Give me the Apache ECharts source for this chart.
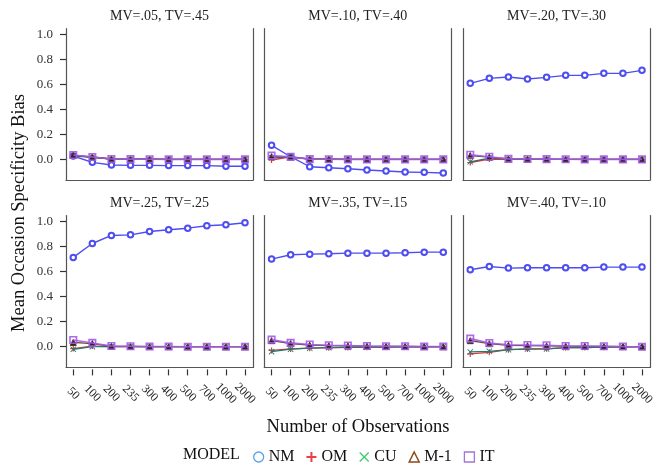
<!DOCTYPE html>
<html lang="en">
<head>
    <meta charset="UTF-8">
    <title>Mean Occasion Specificity Bias</title>
    <script src="https://cdn.jsdelivr.net/npm/echarts@6/dist/echarts.min.js"></script>
    <style>
        html, body { margin: 0; padding: 0; background: #fff; }
        #main { width: 660px; height: 468px; }
    </style>
</head>
<body>
<div id="main"></div>
<script>
    // x categories (number of observations)
    var obs = ['50', '100', '200', '235', '300', '400', '500', '700', '1000', '2000'];
    var panelTitles = ['MV=.05, TV=.45', 'MV=.10, TV=.40', 'MV=.20, TV=.30',
                       'MV=.25, TV=.25', 'MV=.35, TV=.15', 'MV=.40, TV=.10'];
    var yTicks = [0, 0.2, 0.4, 0.6, 0.8, 1.0];
    var models = ['NM', 'OM', 'CU', 'M-1', 'IT'];

    // one row per panel
    var nmBias = [
        [0.027, -0.024, -0.045, -0.048, -0.048, -0.050, -0.050, -0.050, -0.055, -0.055],
        [0.112, 0.021, -0.059, -0.067, -0.075, -0.085, -0.093, -0.101, -0.104, -0.109],
        [0.608, 0.648, 0.659, 0.643, 0.656, 0.672, 0.672, 0.688, 0.688, 0.712],
        [0.711, 0.822, 0.886, 0.891, 0.918, 0.931, 0.944, 0.963, 0.971, 0.987],
        [0.698, 0.732, 0.737, 0.740, 0.745, 0.745, 0.745, 0.748, 0.753, 0.753],
        [0.613, 0.639, 0.626, 0.629, 0.629, 0.629, 0.629, 0.634, 0.634, 0.634]
    ];
    var omBias = [
        [0.030, 0.018, 0.003, 0.002, 0.001, 0.000, 0.000, 0.000, 0.000, 0.000],
        [-0.005, 0.020, 0.002, 0.001, 0.000, 0.000, 0.000, 0.000, 0.000, 0.000],
        [-0.025, 0.003, 0.001, 0.000, 0.000, 0.000, 0.000, 0.000, 0.000, 0.000],
        [-0.015, 0.005, 0.000, 0.000, 0.000, 0.000, 0.000, 0.000, 0.000, 0.000],
        [-0.030, -0.018, -0.012, -0.008, -0.006, -0.004, -0.003, -0.002, -0.001, 0.000],
        [-0.058, -0.045, -0.024, -0.018, -0.017, -0.008, -0.007, -0.004, -0.002, 0.000]
    ];
    var cuBias = [
        [0.028, 0.017, 0.002, 0.001, 0.001, 0.000, 0.000, 0.000, 0.000, 0.000],
        [0.012, 0.018, 0.002, 0.001, 0.000, 0.000, 0.000, 0.000, 0.000, 0.000],
        [-0.020, 0.010, 0.002, 0.001, 0.000, 0.000, 0.000, 0.000, 0.000, 0.000],
        [-0.021, 0.000, 0.001, 0.000, 0.000, 0.000, 0.000, 0.000, 0.000, 0.000],
        [-0.040, -0.020, -0.012, -0.008, -0.006, -0.004, -0.003, -0.002, -0.001, 0.000],
        [-0.042, -0.037, -0.024, -0.019, -0.018, -0.008, -0.007, -0.004, -0.002, 0.000]
    ];
    var m1Bias = [
        [0.032, 0.019, 0.003, 0.002, 0.001, 0.000, 0.000, 0.000, 0.000, 0.000],
        [0.022, 0.020, 0.002, 0.001, 0.000, 0.000, 0.000, 0.000, 0.000, 0.000],
        [0.030, 0.018, 0.003, 0.002, 0.001, 0.000, 0.000, 0.000, 0.000, 0.000],
        [0.034, 0.025, 0.003, 0.002, 0.001, 0.000, 0.000, 0.000, 0.000, 0.000],
        [0.048, 0.025, 0.012, 0.008, 0.006, 0.004, 0.003, 0.002, 0.001, 0.000],
        [0.048, 0.024, 0.011, 0.008, 0.006, 0.004, 0.003, 0.002, 0.001, 0.000]
    ];
    var itBias = [
        [0.035, 0.019, 0.003, 0.002, 0.001, 0.000, 0.000, 0.000, 0.000, 0.000],
        [0.030, 0.020, 0.002, 0.001, 0.000, 0.000, 0.000, 0.000, 0.000, 0.000],
        [0.037, 0.021, 0.004, 0.003, 0.002, 0.001, 0.000, 0.000, 0.000, 0.000],
        [0.053, 0.030, 0.005, 0.004, 0.002, 0.001, 0.000, 0.000, 0.000, 0.000],
        [0.056, 0.030, 0.018, 0.012, 0.010, 0.005, 0.004, 0.003, 0.002, 0.001],
        [0.064, 0.029, 0.016, 0.013, 0.011, 0.005, 0.005, 0.003, 0.001, 0.000]
    ];

    var FONT = 'Liberation Serif';
    var plusPath = 'path://M4,0 L6,0 L6,4 L10,4 L10,6 L6,6 L6,10 L4,10 L4,6 L0,6 L0,4 L4,4 Z';
    var crossPath = 'path://M1,0 L5,4 L9,0 L10,1 L6,5 L10,9 L9,10 L5,6 L1,10 L0,9 L4,5 L0,1 Z';

    var colLeft = [66, 264.3, 463];
    var rowTop = [28.7, 215.5];
    var rowHeight = [151.3, 151.9];
    var panelW = 187;

    var grids = [], xAxes = [], yAxes = [], series = [], graphics = [];
    var axisGray = '#555';

    for (var p = 0; p < 6; p++) {
        var r = Math.floor(p / 3), c = p % 3;
        var bottomRow = r === 1;
        grids.push({ left: colLeft[c], top: rowTop[r], width: panelW, height: rowHeight[r], containLabel: false });
        // axis line (bottom of frame)
        xAxes.push({
            type: 'value', gridIndex: p, min: -0.38, max: 9.42, position: 'bottom',
            axisLine: { show: true, onZero: false, lineStyle: { color: axisGray, width: 1.2 } },
            axisTick: { show: false }, axisLabel: { show: false }, splitLine: { show: false }
        });
        // ticks and labels, set slightly off the frame
        xAxes.push({
            type: 'value', gridIndex: p, min: -0.38, max: 9.42, position: 'bottom', offset: 2,
            axisLine: { show: false, onZero: false },
            axisTick: { show: bottomRow, length: 6, customValues: [0, 1, 2, 3, 4, 5, 6, 7, 8, 9],
                lineStyle: { color: '#333', width: 1.2 } },
            axisLabel: { show: bottomRow, customValues: [0, 1, 2, 3, 4, 5, 6, 7, 8, 9], rotate: -45, margin: 24,
                align: 'center', verticalAlign: 'middle',
                fontFamily: FONT, fontSize: 12, color: '#222',
                formatter: function (v) { return obs[Math.round(v)]; } },
            splitLine: { show: false }
        });
        yAxes.push({
            type: 'value', gridIndex: p, min: -0.165, max: 1.045, position: 'left',
            axisLine: { show: true, onZero: false, lineStyle: { color: axisGray, width: 1.2 } },
            axisTick: { show: c === 0, length: 6, customValues: yTicks, lineStyle: { color: '#333', width: 1.2 } },
            axisLabel: { show: c === 0, customValues: yTicks, margin: 13, fontFamily: FONT, fontSize: 13, color: '#333',
                formatter: function (v) { return v.toFixed(1); } },
            splitLine: { show: false }
        });
        yAxes.push({
            type: 'value', gridIndex: p, min: -0.165, max: 1.045, position: 'right',
            axisLine: { show: true, onZero: false, lineStyle: { color: axisGray, width: 1.2 } },
            axisTick: { show: false }, axisLabel: { show: false }, splitLine: { show: false }
        });

        var toPts = function (arr) { return arr.map(function (v, i) { return [i, v]; }); };
        var base = { type: 'line', xAxisIndex: 2 * p, yAxisIndex: 2 * p, silent: true, animation: false };

        series.push(Object.assign({}, base, {
            name: 'NM', data: toPts(nmBias[p]), symbol: 'emptyCircle', symbolSize: 5.5, z: 2,
            lineStyle: { color: '#4d4df2', width: 1.4 },
            itemStyle: { color: '#4d4df2', borderColor: '#4d4df2', borderWidth: 1.4 }
        }));
        series.push(Object.assign({}, base, {
            name: 'OM', data: toPts(omBias[p]), symbol: plusPath, symbolSize: 6, z: 3,
            lineStyle: { color: '#e0343e', width: 1.3 },
            itemStyle: { color: '#e0343e', borderWidth: 0 }
        }));
        series.push(Object.assign({}, base, {
            name: 'CU', data: toPts(cuBias[p]), symbol: crossPath, symbolSize: 6, z: 4,
            lineStyle: { color: '#1f7a6a', width: 1.3 },
            itemStyle: { color: '#1f7a6a', borderWidth: 0 }
        }));
        series.push(Object.assign({}, base, {
            name: 'M-1', data: toPts(m1Bias[p]), symbol: 'triangle', symbolSize: 6, z: 5,
            lineStyle: { color: '#6b4526', width: 1.3 },
            itemStyle: { color: '#2e2420', borderColor: '#4a3020', borderWidth: 1 }
        }));
        series.push(Object.assign({}, base, {
            name: 'IT', data: toPts(itBias[p]), symbol: 'rect', symbolSize: 6.5, z: 6,
            lineStyle: { color: '#a35be8', width: 1.6, opacity: 0.9 },
            itemStyle: { color: 'rgba(0,0,0,0)', borderColor: '#a35be8', borderWidth: 1.6, opacity: 0.9 }
        }));

        graphics.push({
            type: 'text', x: colLeft[c] + panelW / 2, y: bottomRow ? 203 : 16,
            style: { text: panelTitles[p], font: '14px "' + FONT + '"', fill: '#222', align: 'center', verticalAlign: 'middle' }
        });
    }

    graphics.push({
        type: 'text', x: 358, y: 427,
        style: { text: 'Number of Observations', font: '18.5px "' + FONT + '"', fill: '#111', align: 'center', verticalAlign: 'middle' }
    });
    graphics.push({
        type: 'text', x: 19, y: 213, rotation: Math.PI / 2,
        style: { text: 'Mean Occasion Specificity Bias', font: '18.5px "' + FONT + '"', fill: '#111', align: 'center', verticalAlign: 'middle' }
    });
    graphics.push({
        type: 'text', x: 183, y: 455,
        style: { text: 'MODEL', font: '16px "' + FONT + '"', fill: '#111', align: 'left', verticalAlign: 'middle' }
    });

    var chart = echarts.init(document.getElementById('main'));
    chart.setOption({
        animation: false,
        backgroundColor: '#fff',
        grid: grids,
        xAxis: xAxes,
        yAxis: yAxes,
        series: series,
        graphic: graphics,
        legend: {
            left: 248, top: 444, itemWidth: 10, itemHeight: 10, itemGap: 12, selectedMode: false,
            textStyle: { fontFamily: FONT, fontSize: 16, color: '#111' },
            data: [
                { name: 'NM', icon: 'circle', itemStyle: { color: '#fff', borderColor: '#5aa0e8', borderWidth: 1.3 } },
                { name: 'OM', icon: plusPath, itemStyle: { color: '#e8404a', borderWidth: 0 } },
                { name: 'CU', icon: crossPath, itemStyle: { color: '#44cc77', borderWidth: 0 } },
                { name: 'M-1', icon: 'triangle', itemStyle: { color: '#fff', borderColor: '#8b4a1a', borderWidth: 1.5 } },
                { name: 'IT', icon: 'rect', itemStyle: { color: '#fff', borderColor: '#9a66cc', borderWidth: 1.3 } }
            ]
        }
    });
</script>
</body>
</html>
